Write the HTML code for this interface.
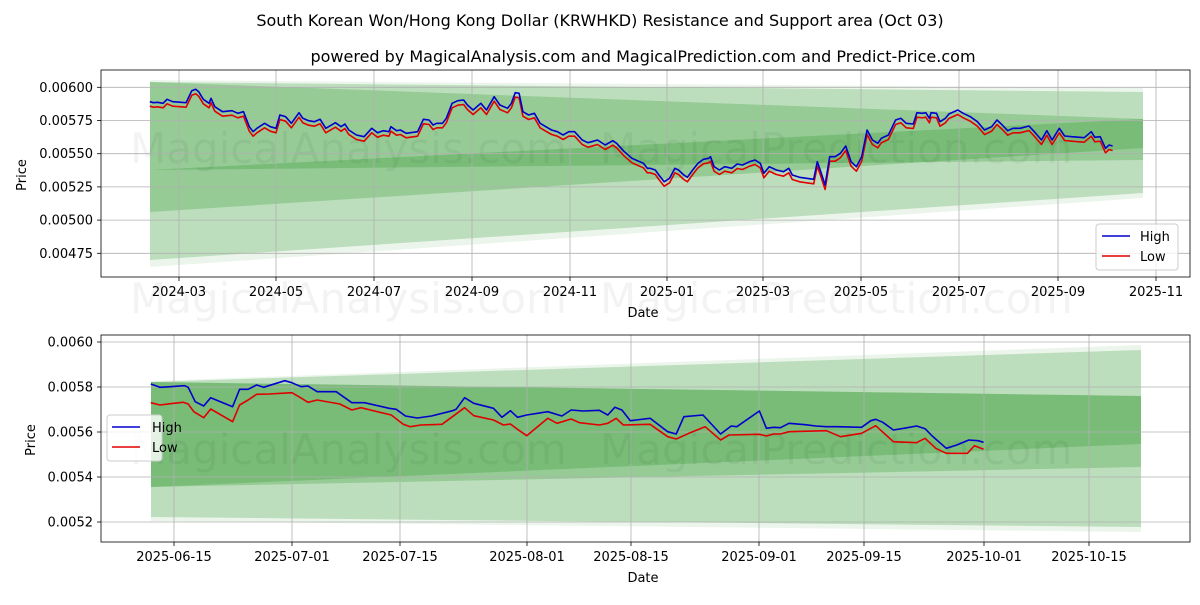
<!DOCTYPE html>
<html><head><meta charset="utf-8"><style>
body{margin:0;background:#fff;}
svg text{font-family:"DejaVu Sans","Liberation Sans",sans-serif;fill:#000;}
</style></head><body>
<svg id="s" width="1200" height="600" xmlns="http://www.w3.org/2000/svg">
<rect width="1200" height="600" fill="#fff"/>
<text x="600" y="26" font-size="16" text-anchor="middle">South Korean Won/Hong Kong Dollar (KRWHKD) Resistance and Support area (Oct 03)</text>
<text x="643" y="62" font-size="16" text-anchor="middle">powered by MagicalAnalysis.com and MagicalPrediction.com and Predict-Price.com</text>

<g fill="green">
<polygon points="150,80 1143,88 1143,198 150,267" opacity="0.08"/>
<polygon points="150,82 1143,92 1143,193 150,260" opacity="0.2"/>
<polygon points="150,82 1143,119 1143,160 150,170" opacity="0.2"/>
<polygon points="150,170 1143,119 1143,148 150,212" opacity="0.2"/>
</g>
<g fill="green">
<polygon points="151,381 1141,345 1141,532 151,521" opacity="0.08"/>
<polygon points="151,382 1141,350 1141,527 151,517" opacity="0.2"/>
<polygon points="151,382 1141,396 1141,467 151,487" opacity="0.2"/>
<polygon points="151,382 1141,396 1141,444 151,487" opacity="0.2"/>
</g>

<g opacity="0.045">
<text x="130" y="163" font-size="42">MagicalAnalysis.com</text>
<text x="600" y="163" font-size="42">MagicalPrediction.com</text>
<text x="130" y="313" font-size="42">MagicalAnalysis.com</text>
<text x="600" y="313" font-size="42">MagicalPrediction.com</text>
<text x="130" y="464" font-size="42">MagicalAnalysis.com</text>
<text x="600" y="464" font-size="42">MagicalPrediction.com</text>
</g>

<g id="grid" stroke="#b0b0b0" stroke-width="0.8"></g>
<g id="lines" fill="none" stroke-width="1.6" stroke-linejoin="round"></g>
<g id="ticks" stroke="#000" stroke-width="0.8"></g>
<g id="labels" font-size="13"></g>

<rect x="101" y="70" width="1089" height="207" fill="none" stroke="#000" stroke-width="0.8"/>
<rect x="101" y="335" width="1089" height="207" fill="none" stroke="#000" stroke-width="0.8"/>

<text x="643" y="317" font-size="13" text-anchor="middle">Date</text>
<text x="643" y="582" font-size="13" text-anchor="middle">Date</text>
<text transform="translate(26,175) rotate(-90)" font-size="13" text-anchor="middle">Price</text>
<text transform="translate(35,440) rotate(-90)" font-size="13" text-anchor="middle">Price</text>

<rect x="1096" y="224" width="82" height="46" rx="3" fill="#fff" fill-opacity="0.8" stroke="#ccc"/>
<line x1="1102" y1="236" x2="1130" y2="236" stroke="#0000cc" stroke-width="1.5"/>
<line x1="1102" y1="256" x2="1130" y2="256" stroke="#e00000" stroke-width="1.5"/>
<text x="1140" y="241" font-size="13">High</text>
<text x="1140" y="261" font-size="13">Low</text>
<rect x="107" y="415" width="55" height="46" rx="3" fill="#fff" fill-opacity="0.8" stroke="#ccc"/>
<line x1="112" y1="427" x2="140" y2="427" stroke="#0000cc" stroke-width="1.5"/>
<line x1="112" y1="447" x2="140" y2="447" stroke="#e00000" stroke-width="1.5"/>
<text x="152" y="432" font-size="13">High</text>
<text x="152" y="452" font-size="13">Low</text>
</svg>
<script>
var NS="http://www.w3.org/2000/svg";
function el(p,t,a,txt){var e=document.createElementNS(NS,t);for(var k in a)e.setAttribute(k,a[k]);if(txt)e.textContent=txt;document.getElementById(p).appendChild(e);}
var tx=[[179,"2024-03"],[276,"2024-05"],[374,"2024-07"],[472,"2024-09"],[570,"2024-11"],[667,"2025-01"],[763,"2025-03"],[861,"2025-05"],[959,"2025-07"],[1058,"2025-09"],[1156,"2025-11"]];
tx.forEach(function(t){el("grid","line",{x1:t[0],y1:70,x2:t[0],y2:277});el("ticks","line",{x1:t[0],y1:277,x2:t[0],y2:281});el("labels","text",{x:t[0],y:296,"text-anchor":"middle"},t[1]);});
var ty=[[87.3,"0.00600"],[120.5,"0.00575"],[153.7,"0.00550"],[186.9,"0.00525"],[220.1,"0.00500"],[253.3,"0.00475"]];
ty.forEach(function(t){el("grid","line",{x1:101,y1:t[0],x2:1190,y2:t[0]});el("ticks","line",{x1:97,y1:t[0],x2:101,y2:t[0]});el("labels","text",{x:93,y:t[0]+4.5,"text-anchor":"end"},t[1]);});
var bx=[[174,"2025-06-15"],[292,"2025-07-01"],[400,"2025-07-15"],[527,"2025-08-01"],[631,"2025-08-15"],[759,"2025-09-01"],[864,"2025-09-15"],[984,"2025-10-01"],[1089,"2025-10-15"]];
bx.forEach(function(t){el("grid","line",{x1:t[0],y1:335,x2:t[0],y2:542});el("ticks","line",{x1:t[0],y1:542,x2:t[0],y2:546});el("labels","text",{x:t[0],y:561,"text-anchor":"middle"},t[1]);});
var by=[[342,"0.0060"],[387,"0.0058"],[432,"0.0056"],[477,"0.0054"],[522,"0.0052"]];
by.forEach(function(t){el("grid","line",{x1:101,y1:t[0],x2:1190,y2:t[0]});el("ticks","line",{x1:97,y1:t[0],x2:101,y2:t[0]});el("labels","text",{x:93,y:t[0]+4.5,"text-anchor":"end"},t[1]);});

var h1=[[130,125],[140,128],[150,127],[165,130],[175,118],[190,125],[225,128],[240,92],[250,88],[258,95],[270,118],[285,130],[290,115],[300,140],[320,155],[345,152],[360,160],[375,155],[390,200],[400,215],[410,205],[430,190],[445,200],[460,205],[470,165],[485,170],[500,190],[520,158],[530,175],[545,182],[560,185],[575,178],[590,205],[615,188],[630,200],[640,192],[650,210],[670,225],[690,230],[710,205],[725,218],[740,212],[755,215],[760,200],[775,212],[785,210],[800,220],[830,215],[845,178],[860,180],[870,195],[880,190],[895,190],[905,175],[920,130],[935,122],[950,120],[960,135],[975,150],[995,130],[1010,150],[1030,110],[1045,135],[1065,145],[1075,130],[1085,98],[1095,100],[1105,155],[1120,165],[1135,160],[1150,190],[1165,200],[1180,210],[1195,215],[1210,225],[1225,215],[1240,215],[1260,240],[1275,248],[1285,245],[1300,240],[1320,255],[1340,242],[1350,250],[1370,275],[1390,295],[1400,300],[1420,310],[1430,325]];
var h2=[[0,325],[15,330],[25,345],[40,365],[55,355],[70,325],[80,330],[95,345],[105,352],[120,330],[135,310],[150,298],[165,295],[170,290],[180,320],[195,330],[210,320],[230,325],[245,312],[260,315],[280,305],[295,300],[310,310],[320,340],[335,320],[355,330],[375,335],[390,325],[400,345],[420,352],[440,355],[460,358],[470,305],[480,335],[492,375],[505,290],[520,290],[535,280],[550,258],[565,305],[580,320],[595,290],[610,210],[625,240],[640,250],[650,235],[670,225],[690,180],[705,175],[720,190],[740,192],[750,158],[765,160],[775,158],[785,175],[790,158],[805,160],[815,185],[830,175],[840,162],[865,150],[880,160],[900,170],[920,185],[940,210],[960,200],[975,180],[990,195],[1005,212],[1020,205],[1040,205],[1065,198],[1080,215],[1100,240],[1115,212],[1130,240],[1150,205],[1165,228],[1185,230],[1220,233],[1240,215],[1250,232],[1265,230],[1280,265],[1290,255],[1300,258]];
var topPts=[];h1.forEach(function(p){topPts.push([100+p[0]/2.613,60+p[1]/3]);});h2.forEach(function(p){topPts.push([650+p[0]/2.81,60+p[1]/3]);});
function path(pts,dy){return "M"+pts.map(function(p){return p[0].toFixed(1)+","+(p[1]+dy).toFixed(1);}).join("L");}
el("lines","path",{d:path(topPts,4.5),stroke:"#e00000"});
el("lines","path",{d:path(topPts,0),stroke:"#0000cc"});
var bh=[[72,162],[85,172],[100,170],[120,167],[125,172],[135,215],[147,228],[157,203],[188,230],[198,178],[210,178],[222,165],[232,172],[250,160],[262,152],[272,158],[285,170],[295,168],[308,185],[335,185],[357,218],[375,218],[410,235],[420,238],[433,258],[450,264],[470,258],[500,242],[505,238],[517,203],[530,220],[558,235],[570,262],[582,242],[592,262],[605,255],[635,245],[655,258],[668,240],[685,243],[708,241],[720,255],[730,232],[740,240],[752,272],[780,265],[805,305],[817,312],[828,260],[855,255],[880,312],[895,288],[903,290],[935,243],[945,295],[955,292],[965,293],[977,280],[1000,284],[1015,288],[1030,290],[1045,290],[1080,292],[1093,272],[1100,268],[1110,277],[1125,300],[1140,295],[1158,288],[1170,296],[1180,318],[1200,355],[1215,345],[1232,330],[1245,332],[1253,337]];
var bl=[[72,218],[85,225],[100,221],[118,217],[125,222],[133,245],[147,263],[157,237],[188,275],[198,225],[210,210],[222,193],[240,192],[272,188],[282,200],[295,217],[308,210],[340,222],[357,240],[370,233],[413,255],[430,283],[440,290],[455,285],[485,283],[517,233],[530,257],[558,270],[572,285],[582,282],[592,298],[605,317],[635,265],[648,280],[668,267],[680,278],[708,285],[720,280],[732,265],[742,285],[780,283],[805,320],[817,327],[835,310],[858,290],[880,330],[892,315],[935,313],[945,318],[955,312],[965,312],[977,305],[1030,302],[1050,320],[1080,310],[1100,287],[1125,335],[1158,338],[1170,325],[1185,355],[1200,370],[1230,370],[1240,347],[1253,358]];
function cv(a){return a.map(function(p){return [100+p[0]/1.418,330+p[1]/3];});}
el("lines","path",{d:path(cv(bl),0),stroke:"#e00000"});
el("lines","path",{d:path(cv(bh),0),stroke:"#0000cc"});
</script>
</body></html>
